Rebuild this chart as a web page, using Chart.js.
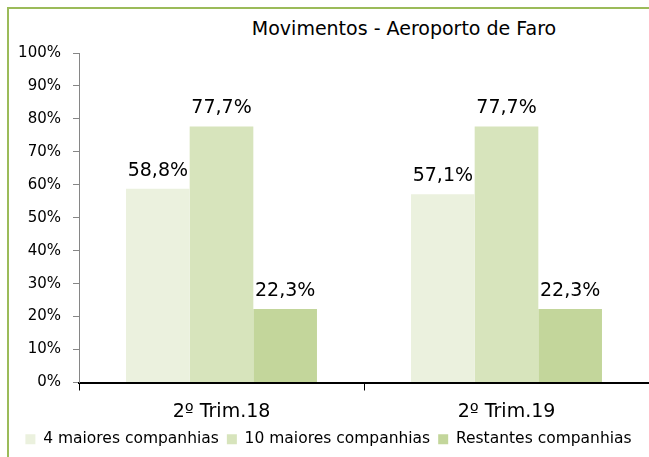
<!DOCTYPE html>
<html>
<head>
<meta charset="utf-8">
<script src="https://cdn.jsdelivr.net/npm/chart.js@4"></script>
<style>
  body { margin: 0; background: #fff; }
  #wrap { position: relative; width: 649px; height: 457px; overflow: hidden; }
  #frame { position: absolute; left: 7px; top: 7px; width: 660px; height: 470px;
           border-left: 2px solid #9bbb59; border-top: 2px solid #9bbb59; }
  #title { position: absolute; left: 0; width: 808px; top: 17px; text-align: center;
           font: 19px "DejaVu Sans", sans-serif; color: #000; }
  canvas { position: absolute; left: 0; top: 0; }
</style>
</head>
<body>
<div id="wrap">
  <div id="frame"></div>
  <div id="title">Movimentos - Aeroporto de Faro</div>
  <canvas id="chart" width="649" height="457"></canvas>
</div>
<script>
  const categories = ['2º Trim.18', '2º Trim.19'];
  const seriesNames = ['4 maiores companhias', '10 maiores companhias', 'Restantes companhias'];
  const top4 = [58.8, 57.1];
  const top10 = [77.7, 77.7];
  const others = [22.3, 22.3];
  const yTicks = [0, 10, 20, 30, 40, 50, 60, 70, 80, 90, 100];

  const FONT = '"DejaVu Sans", sans-serif';

  // value labels above each bar, decimal comma
  const barLabels = {
    id: 'barLabels',
    afterDatasetsDraw(chart) {
      const ctx = chart.ctx;
      ctx.save();
      ctx.font = '19px ' + FONT;
      ctx.fillStyle = '#000';
      ctx.textAlign = 'center';
      ctx.textBaseline = 'alphabetic';
      chart.data.datasets.forEach((ds, i) => {
        chart.getDatasetMeta(i).data.forEach((bar, j) => {
          const txt = ds.data[j].toFixed(1).replace('.', ',') + '%';
          ctx.fillText(txt, bar.x, bar.y - 13);
        });
      });
      ctx.restore();
    }
  };

  new Chart(document.getElementById('chart').getContext('2d'), {
    type: 'bar',
    data: {
      labels: categories,
      datasets: [
        { label: seriesNames[0], data: top4, backgroundColor: '#ebf1de' },
        { label: seriesNames[1], data: top10, backgroundColor: '#d7e4bc' },
        { label: seriesNames[2], data: others, backgroundColor: '#c3d69b' }
      ]
    },
    options: {
      responsive: false,
      animation: false,
      layout: { padding: { left: 8, top: 53, right: 0, bottom: 0 } },
      datasets: {
        bar: { categoryPercentage: 0.67, barPercentage: 1 }
      },
      plugins: {
        legend: {
          position: 'bottom',
          labels: {
            color: '#000',
            boxWidth: 10,
            boxHeight: 10,
            padding: 8,
            font: { family: FONT, size: 15.5 }
          }
        },
        tooltip: { enabled: false }
      },
      scales: {
        x: {
          border: { color: '#000', width: 2 },
          grid: {
            drawOnChartArea: false,
            tickLength: 8,
            color: ctx => ctx.index === 2 ? 'rgba(0,0,0,0)' : '#000'
          },
          ticks: { color: '#000', padding: 10, font: { family: FONT, size: 19 } },
          afterFit(scale) { scale.height = 41; }
        },
        y: {
          min: 0,
          max: 100,
          afterBuildTicks(scale) { scale.ticks = yTicks.map(v => ({ value: v })); },
          border: { color: '#868686', width: 1 },
          grid: { drawOnChartArea: false, tickLength: 6, color: '#868686' },
          ticks: {
            color: '#000',
            padding: 12,
            font: { family: FONT, size: 15 },
            callback: v => v + '%'
          },
          afterFit(scale) { scale.width = 71; }
        }
      }
    },
    plugins: [barLabels]
  });
</script>
</body>
</html>
